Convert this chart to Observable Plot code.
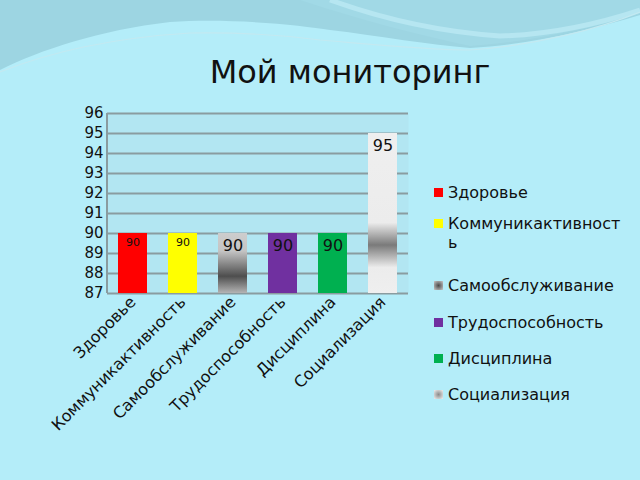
<!DOCTYPE html>
<html><head><meta charset="utf-8">
<script src="https://cdn.jsdelivr.net/npm/d3@7"></script>
<script src="https://cdn.jsdelivr.net/npm/@observablehq/plot@0.6"></script>
<style>
html,body{margin:0;padding:0;}
body{width:640px;height:480px;overflow:hidden;font-family:"DejaVu Sans",sans-serif;}
#page{position:relative;width:640px;height:480px;background-color:#b4edf9;}
#bg{position:absolute;left:0;top:0;}
#chart{position:absolute;left:0;top:0;}
#title{position:absolute;left:0;width:700px;top:53px;text-align:center;font-size:32px;line-height:38px;color:#111;}
#legend{position:absolute;left:434px;top:184px;font-size:16px;line-height:17px;color:#111;}
.item{display:flex;align-items:flex-start;}
.item.wrap{line-height:19px;}
.item.wrap .sw{margin-top:5px;}
.sw{width:9px;height:9px;margin-top:4px;margin-right:5px;flex:none;}
</style></head>
<body><div id="page">
<svg id="bg" width="640" height="480">
  <path d="M0,0 H640 V15 C590,30 530,45 470,48 C430,45 380,36 330,30 C300,25 230,18 170,22 C100,30 40,50 0,70 Z" fill="#9dd5e2"/>
  <path d="M300,0 C360,20 420,35 470,46 C530,42 590,28 640,14 V0 Z" fill="#a1d9e6"/>
  <path d="M330,0 C380,18 440,32 500,36 C560,34 610,20 640,10" fill="none" stroke="#b6e6f1" stroke-width="5"/>
  <path d="M0,72 C50,52 110,38 190,33 C250,32 290,36 320,40 C380,45 430,50 470,50 C540,45 600,28 640,12" fill="none" stroke="#c3e9f1" stroke-width="1.2"/>
</svg>
<div id="chart"></div>
<div id="title">Мой мониторинг</div>
<div id="legend"></div>
</div>
<script>
const categories = ["Здоровье","Коммуникактивность","Самообслуживание","Трудоспособность","Дисциплина","Социализация"];
const values = [90, 90, 90, 90, 90, 95];
const yTicks = [87, 88, 89, 90, 91, 92, 93, 94, 95, 96];
const seriesColors = ["#ff0000", "#ffff00", "url(#gradSelf)", "#7030a0", "#00b050", "url(#gradSoc)"];

const data = categories.map((c, i) => ({category: c, value: values[i], color: seriesColors[i], small: i < 2}));

const defs = () => {
  const d = d3.create("svg:defs");
  const g1 = d.append("linearGradient").attr("id", "gradSelf").attr("x1", 0).attr("x2", 0).attr("y1", 0).attr("y2", 1);
  [[0, "#cdcdcd"], [0.3, "#c4c4c4"], [0.72, "#4e4e4e"], [1, "#b4b4b4"]].forEach(([o, c]) => g1.append("stop").attr("offset", o).attr("stop-color", c));
  const g2 = d.append("linearGradient").attr("id", "gradSoc").attr("x1", 0).attr("x2", 0).attr("y1", 0).attr("y2", 1);
  [[0, "#efefef"], [0.56, "#ececec"], [0.7, "#7a7a7a"], [0.84, "#ececec"], [1, "#efefef"]].forEach(([o, c]) => g2.append("stop").attr("offset", o).attr("stop-color", c));
  return d.node();
};

const leftLine = (index, scales, vals, dims) =>
  d3.create("svg:line")
    .attr("x1", dims.marginLeft).attr("x2", dims.marginLeft)
    .attr("y1", dims.marginTop).attr("y2", dims.height - dims.marginBottom)
    .attr("stroke", "#8a9ca0").attr("stroke-width", 2).node();

const chart = Plot.plot({
  width: 640,
  height: 480,
  marginLeft: 107,
  marginRight: 232,
  marginTop: 113,
  marginBottom: 187,
  style: {background: "transparent", fontFamily: "DejaVu Sans, sans-serif", fontSize: "15px", color: "#111"},
  x: {domain: categories, paddingInner: 0.42, paddingOuter: 0.21, tickRotate: -45, tickSize: 0, tickPadding: 6, label: null},
  y: {domain: [87, 96], ticks: yTicks, tickSize: 0, tickPadding: 4, label: null},
  color: {type: "identity"},
  marks: [
    defs,
    Plot.frame({fill: "#b2e6f2", stroke: "none"}),
    Plot.ruleY(yTicks, {stroke: "#8a9ca0", strokeWidth: 2}),
    leftLine,
    Plot.barY(data, {x: "category", y1: 87, y2: "value", fill: "color"}),
    Plot.text(data, {filter: d => d.small, x: "category", y: "value", text: d => String(d.value), dy: 9, fontSize: 11, fill: "#111"}),
    Plot.text(data, {filter: d => !d.small, x: "category", y: "value", text: d => String(d.value), dy: 12, fontSize: 16, fill: "#111"})
  ]
});
d3.select(chart).selectAll("g[aria-label='x-axis tick label'] text, g[aria-label='x-axis'] text").style("font-size", "16px");
document.getElementById("chart").appendChild(chart);

const swatchStyles = ["background:#ff0000", "background:#ffff00",
  "background:radial-gradient(circle,#4a4a4a 0%,#bdbdbd 90%)", "background:#7030a0",
  "background:#00b050", "background:radial-gradient(circle,#8a8a8a 0%,#e6e6e6 90%)"];
const legendLabels = ["Здоровье", "Коммуникактивност<br>ь", "Самообслуживание", "Трудоспособность", "Дисциплина", "Социализация"];
const gaps = [0, 13, 25, 20, 19, 19];
const legend = document.getElementById("legend");
categories.forEach((c, i) => {
  const el = document.createElement("div");
  el.className = "item" + (legendLabels[i].includes("<br>") ? " wrap" : "");
  el.style.marginTop = gaps[i] + "px";
  el.innerHTML = `<span class="sw" style="${swatchStyles[i]}"></span><span>${legendLabels[i]}</span>`;
  legend.appendChild(el);
});
</script>
</body></html>
